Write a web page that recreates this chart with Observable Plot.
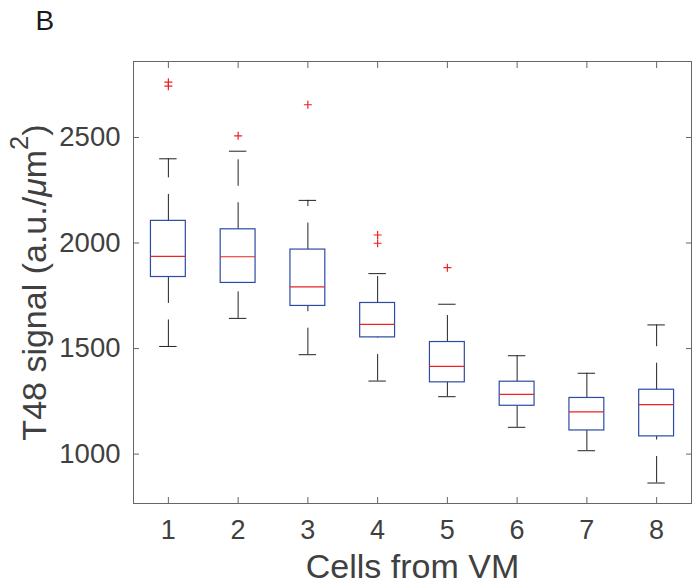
<!DOCTYPE html>
<html><head><meta charset="utf-8">
<script src="https://cdn.jsdelivr.net/npm/d3@7"></script>
<script src="https://cdn.jsdelivr.net/npm/@observablehq/plot@0.6"></script>
<style>html,body{margin:0;padding:0;background:#fff;} svg{display:block}</style>
</head><body><div id="chart"></div>
<script>
// Box plot summary values
const cells = [1, 2, 3, 4, 5, 6, 7, 8];
const whiskerLow  = [1510, 1643, 1471, 1346, 1272, 1127, 1016, 863];
const q1          = [1839, 1811, 1702, 1553, 1340, 1229, 1112, 1084];
const median      = [1937, 1935, 1792, 1615, 1416, 1283, 1200, 1234];
const q3          = [2105, 2065, 1969, 1716, 1531, 1343, 1266, 1305];
const whiskerHigh = [2399, 2435, 2202, 1855, 1710, 1466, 1383, 1612];
const outlierCell  = [1, 1, 2, 3, 4, 4, 5];
const outlierValue = [2762, 2743, 2508, 2655, 2038, 1999, 1883];
const yTicks = [1000, 1500, 2000, 2500];
const xTicks = cells;
const yLabel = "T48 signal (a.u./μm2)";

const boxes = cells.map((c, i) => ({cell: c, lo: whiskerLow[i], q1: q1[i], med: median[i], q3: q3[i], hi: whiskerHigh[i]}));
const outliers = outlierCell.map((c, i) => ({cell: c, value: outlierValue[i]}));

const font = "'Liberation Sans', Arial, Helvetica, sans-serif";
const half = 0.25, capHalf = 0.125;
const boxColor = "#2d4ba5", medColor = "#ee2222", whiskColor = "#222", frameColor = "#666", textColor = "#404040";

const plot = Plot.plot({
  width: 697, height: 588,
  marginLeft: 133, marginRight: 6, marginTop: 61, marginBottom: 85,
  style: {fontFamily: font, background: "#fff", overflow: "visible"},
  x: {type: "linear", domain: [0.5, 8.5], label: null},
  y: {domain: [766, 2860], label: null},
  marks: [
    Plot.frame({stroke: frameColor, strokeWidth: 1}),
    Plot.axisX(xTicks, {anchor: "bottom", tickSize: -6, tickPadding: 22, fontSize: 27, stroke: frameColor, fill: textColor, label: null, tickFormat: d => String(d)}),
    Plot.axisX(xTicks, {anchor: "top", tickSize: -6, stroke: frameColor, fill: "none", label: null}),
    Plot.axisY(yTicks, {anchor: "left", tickSize: -6, tickPadding: 19, fontSize: 27.5, stroke: frameColor, fill: textColor, label: null, tickFormat: d => String(d)}),
    Plot.axisY(yTicks, {anchor: "right", tickSize: -6, stroke: frameColor, fill: "none", label: null}),
    // whiskers (drawn from lower value to higher value, dashed)
    Plot.ruleX(boxes, {x: "cell", y1: "q3", y2: "hi", stroke: whiskColor, strokeWidth: 1, strokeDasharray: "26.5,16.5"}),
    Plot.ruleX(boxes, {x: "cell", y1: "lo", y2: "q1", stroke: whiskColor, strokeWidth: 1, strokeDasharray: "26.5,16.5"}),
    // caps
    Plot.ruleY(boxes, {y: "hi", x1: d => d.cell - capHalf, x2: d => d.cell + capHalf, stroke: whiskColor, strokeWidth: 1}),
    Plot.ruleY(boxes, {y: "lo", x1: d => d.cell - capHalf, x2: d => d.cell + capHalf, stroke: whiskColor, strokeWidth: 1}),
    // boxes
    Plot.rect(boxes, {x1: d => d.cell - half, x2: d => d.cell + half, y1: "q1", y2: "q3", fill: "none", stroke: boxColor, strokeWidth: 1.2}),
    // medians
    Plot.ruleY(boxes, {y: "med", x1: d => d.cell - half, x2: d => d.cell + half, stroke: medColor, strokeWidth: 1.2}),
    // outliers
    Plot.dot(outliers, {x: "cell", y: "value", symbol: "plus", r: 2.7, stroke: medColor, strokeWidth: 1.2}),
    // labels
    Plot.text(["Cells from VM"], {text: d => d, frameAnchor: "bottom", lineAnchor: "bottom", dy: 74, fontSize: 34, fill: textColor}),
    Plot.text([yLabel], {text: d => d, frameAnchor: "left", rotate: -90, textAnchor: "middle", lineAnchor: "bottom", dx: -88, dy: 0, fontSize: 34, fill: textColor}),
    Plot.text(["B"], {text: d => d, frameAnchor: "top-left", textAnchor: "start", lineAnchor: "bottom", dx: -98, dy: -31.5, fontSize: 28, fill: "#1a1a1a"})
  ]
});

// rich text for the y label: italic mu and superscript 2
d3.select(plot).selectAll("text").filter(function() { return this.textContent === yLabel; }).each(function() {
  const t = d3.select(this);
  t.text(null);
  t.append("tspan").text("T48 signal (a.u./");
  t.append("tspan").attr("font-style", "italic").text("μ");
  t.append("tspan").text("m");
  t.append("tspan").attr("font-size", "0.75em").attr("dy", "-0.7em").text("2");
  t.append("tspan").attr("dy", "0.525em").text(")");
});

document.getElementById("chart").appendChild(plot);
</script>
</body></html>
